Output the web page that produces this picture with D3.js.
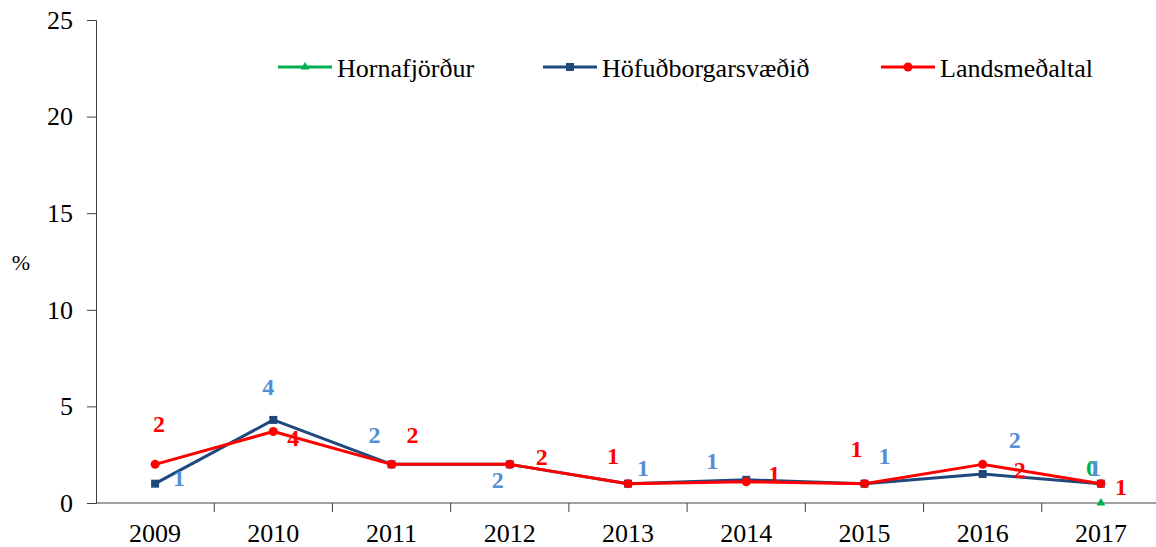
<!DOCTYPE html>
<html>
<head>
<meta charset="utf-8">
<script src="https://cdn.jsdelivr.net/npm/d3@7"></script>
<style>
  body { margin: 0; background: #fff; }
  text { font-family: "Liberation Serif", "Times New Roman", serif; }
</style>
</head>
<body>
<svg id="chart" width="1156" height="547"></svg>
<script>
// data
const years = ['2009', '2010', '2011', '2012', '2013', '2014', '2015', '2016', '2017'];
const hofud = [1.0, 4.3, 2.0, 2.0, 1.0, 1.2, 1.0, 1.5, 1.0];
const lands = [2.0, 3.7, 2.0, 2.0, 1.0, 1.1, 1.0, 2.0, 1.0];
const horna = [null, null, null, null, null, null, null, null, 0];
const yTicks = [0, 5, 10, 15, 20, 25];

// where each value label centre sits relative to its point (Excel-like placement)
const hofudLabelOff = [[24, -6], [-5, -33], [-17, -29], [-12, 16], [15, -16], [-34, -19], [20, -28], [32, -34], [-6, -16]];
const landsLabelOff = [[4, -40], [20, 6], [21, -29], [32, -7], [-15, -28], [28, -8], [-8, -35], [37, 6], [20, 3]];
const hornaLabelOff = [[0, 0], [0, 0], [0, 0], [0, 0], [0, 0], [0, 0], [0, 0], [0, 0], [-9, -35]];

const svg = d3.select('#chart');
const m = { left: 96, top: 20, bottom: 503, right: 1160 };

const x = d3.scaleBand().domain(years).range([m.left, m.right]);
const y = d3.scaleLinear().domain([0, 25]).range([m.bottom, m.top]);
const cx = d => x(d) + x.bandwidth() / 2;

// y axis
const yAxis = svg.append('g').attr('transform', `translate(${m.left},0)`)
  .call(d3.axisLeft(y).tickValues(yTicks).tickSize(9).tickPadding(14));
yAxis.select('.domain').attr('stroke', '#404040').attr('stroke-width', 1);
yAxis.selectAll('.tick line').attr('stroke', '#404040');
yAxis.selectAll('.tick text').attr('font-size', 26).attr('fill', '#000')
  .attr('font-family', '"Liberation Serif", serif');

// x axis with ticks at category boundaries
svg.append('line').attr('x1', m.left).attr('x2', m.right)
  .attr('y1', m.bottom).attr('y2', m.bottom).attr('stroke', '#404040');
svg.selectAll('line.xt').data(years.slice(1)).enter().append('line')
  .attr('class', 'xt')
  .attr('x1', d => x(d)).attr('x2', d => x(d))
  .attr('y1', m.bottom).attr('y2', m.bottom + 9)
  .attr('stroke', '#404040');
svg.selectAll('text.xl').data(years).enter().append('text')
  .attr('class', 'xl')
  .attr('x', d => cx(d)).attr('y', m.bottom + 39)
  .attr('text-anchor', 'middle').attr('font-size', 26).text(d => d);

svg.append('text').attr('x', 21).attr('y', 270).attr('text-anchor', 'middle')
  .attr('font-size', 22).text('%');

const series = [
  { name: 'Hornafjörður', vals: horna, color: '#00B050', lab: '#00B050', off: hornaLabelOff, marker: 'tri' },
  { name: 'Höfuðborgarsvæðið', vals: hofud, color: '#1F497D', lab: '#558ED5', off: hofudLabelOff, marker: 'sq' },
  { name: 'Landsmeðaltal', vals: lands, color: '#FF0000', lab: '#FF0000', off: landsLabelOff, marker: 'dot' },
];

const line = d3.line()
  .defined(d => d.v !== null)
  .x(d => cx(d.year)).y(d => y(d.v));

const drawMarker = (g, kind, color, px, py) => {
  if (kind === 'sq') {
    g.append('rect').attr('x', px - 4).attr('y', py - 4).attr('width', 8).attr('height', 8).attr('fill', color);
  } else if (kind === 'dot') {
    g.append('circle').attr('cx', px).attr('cy', py).attr('r', 4.5).attr('fill', color);
  } else {
    g.append('path').attr('d', d3.symbol().type(d3.symbolTriangle).size(34)())
      .attr('transform', `translate(${px},${py})`).attr('fill', color);
  }
};

series.forEach((s) => {
  const pts = years.map((yr, i) => ({ year: yr, v: s.vals[i], off: s.off[i] }));
  const g = svg.append('g');
  g.append('path').attr('d', line(pts)).attr('fill', 'none')
    .attr('stroke', s.color).attr('stroke-width', 3).attr('stroke-linejoin', 'round');
  pts.filter(p => p.v !== null).forEach((p) => {
    drawMarker(g, s.marker, s.color, cx(p.year), y(p.v));
  });
  s.pts = pts;
});

// value labels drawn on top
series.forEach((s) => {
  svg.append('g').selectAll('text').data(s.pts.filter(p => p.v !== null)).enter().append('text')
    .attr('x', p => cx(p.year) + p.off[0])
    .attr('y', p => y(p.v) + p.off[1] + 8)
    .attr('text-anchor', 'middle')
    .attr('font-size', 24).attr('font-weight', 'bold')
    .attr('fill', s.lab)
    .text(p => Math.round(p.v));
});

// legend
const legX = [278, 543, 881];
series.forEach((s, i) => {
  const lg = svg.append('g');
  lg.append('line').attr('x1', legX[i]).attr('x2', legX[i] + 54)
    .attr('y1', 67).attr('y2', 67).attr('stroke', s.color).attr('stroke-width', 3);
  drawMarker(lg, s.marker, s.color, legX[i] + 27, 67);
  lg.append('text').attr('x', legX[i] + 59).attr('y', 77)
    .attr('font-size', 26).text(s.name);
});
</script>
</body>
</html>
